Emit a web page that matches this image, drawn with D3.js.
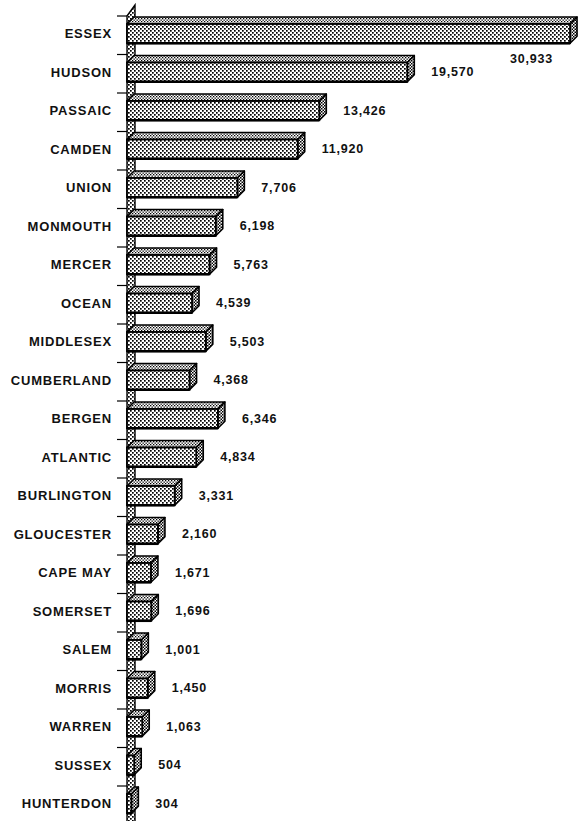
<!DOCTYPE html>
<html><head><meta charset="utf-8">
<script src="https://cdn.jsdelivr.net/npm/d3@7"></script>
<style>html,body{margin:0;padding:0;background:#fff;} svg{display:block}</style>
</head><body><div id="chart"></div>
<script>
const counties = ["ESSEX","HUDSON","PASSAIC","CAMDEN","UNION","MONMOUTH","MERCER","OCEAN","MIDDLESEX","CUMBERLAND","BERGEN","ATLANTIC","BURLINGTON","GLOUCESTER","CAPE MAY","SOMERSET","SALEM","MORRIS","WARREN","SUSSEX","HUNTERDON"];
const values = [30933,19570,13426,11920,7706,6198,5763,4539,5503,4368,6346,4834,3331,2160,1671,1696,1001,1450,1063,504,304];
const data = counties.map((c,i)=>({county:c, value:values[i]}));

const W=579, H=821;
const svg = d3.select("#chart").append("svg").attr("width",W).attr("height",H);
const defs = svg.append("defs");
function dotPattern(id, size, dot){
  const p = defs.append("pattern").attr("id",id).attr("patternUnits","userSpaceOnUse")
    .attr("width",size).attr("height",size);
  p.append("rect").attr("width",size).attr("height",size).attr("fill","#fff");
  p.append("rect").attr("x",0).attr("y",0).attr("width",dot).attr("height",dot).attr("fill","#000");
  p.append("rect").attr("x",size/2).attr("y",size/2).attr("width",dot).attr("height",dot).attr("fill","#000");
}
dotPattern("pFront",4,1.7);
dotPattern("pTop",3,1.3);
dotPattern("pSide",3,1.5);
dotPattern("pWall",4,1.7);

const x = d3.scaleLinear().domain([0,31000]).range([127,571]);
const y = d3.scaleBand().domain(counties).range([16,16+38.5*counties.length]).padding(0);
const bw = y.bandwidth();
const dx = 7, dy = 7;
const fTop = bw*0.208, fH = bw*0.5;
const x0 = x(0);

// wall
svg.append("path")
  .attr("d", `M${x0},${y.range()[0]} L${x0+dx+1},${y.range()[0]-11} L${x0+dx+1},${H+20} L${x0},${H+20} Z`)
  .attr("fill","url(#pWall)").attr("stroke","#000").attr("stroke-width",1.4);

// ticks
svg.append("g").selectAll("line").data(counties).join("line")
  .attr("x1",x0-10).attr("x2",x0).attr("y1",d=>y(d)).attr("y2",d=>y(d))
  .attr("stroke","#000").attr("stroke-width",1.2);

// bars
const g = svg.append("g").selectAll("g").data(data).join("g");
g.append("path").attr("d",d=>{
  const t=y(d.county)+fTop, xe=x(d.value);
  return `M${x0},${t} L${x0+dx},${t-dy} L${xe+dx},${t-dy} L${xe},${t} Z`;
}).attr("fill","url(#pTop)").attr("stroke","#000").attr("stroke-width",1.6).attr("stroke-linejoin","round");
g.append("path").attr("d",d=>{
  const t=y(d.county)+fTop, xe=x(d.value);
  return `M${xe},${t} L${xe+dx},${t-dy} L${xe+dx},${t-dy+fH} L${xe},${t+fH} Z`;
}).attr("fill","url(#pSide)").attr("stroke","#000").attr("stroke-width",1.6).attr("stroke-linejoin","round");
g.append("rect")
  .attr("x",x0).attr("y",d=>y(d.county)+fTop)
  .attr("width",d=>x(d.value)-x0).attr("height",fH)
  .attr("fill","url(#pFront)").attr("stroke","#000").attr("stroke-width",1.8);
g.append("line")
  .attr("x1",x0).attr("x2",d=>x(d.value)).attr("y1",d=>y(d.county)+fTop+fH).attr("y2",d=>y(d.county)+fTop+fH)
  .attr("stroke","#000").attr("stroke-width",2.6);

// category labels
svg.append("g").selectAll("text").data(data).join("text")
  .attr("x",112).attr("y",d=>y(d.county)+fTop+fH/2)
  .attr("text-anchor","end").attr("dominant-baseline","central")
  .attr("font-family","'Liberation Sans', Arial, sans-serif").attr("font-weight","bold")
  .attr("font-size",13).attr("letter-spacing","0.8px").attr("fill","#111")
  .text(d=>d.county);

// value labels
const fmt = d3.format(",");
const vl = svg.append("g").selectAll("text").data(data).join("text")
  .attr("font-family","'Liberation Sans', Arial, sans-serif").attr("font-weight","bold")
  .attr("font-size",12.5).attr("letter-spacing","0.8px").attr("fill","#111")
  .attr("dominant-baseline","central")
  .text(d=>fmt(d.value));
vl.each(function(d){
  const w = this.getComputedTextLength();
  const xe = x(d.value);
  const t = y(d.county)+fTop;
  const sel = d3.select(this);
  if (xe+24+w > W-2){
    sel.attr("text-anchor","end").attr("x",xe-17).attr("y",t+fH+16);
  } else {
    sel.attr("x",xe+24).attr("y",t+fH/2);
  }
});
</script>
</body></html>
